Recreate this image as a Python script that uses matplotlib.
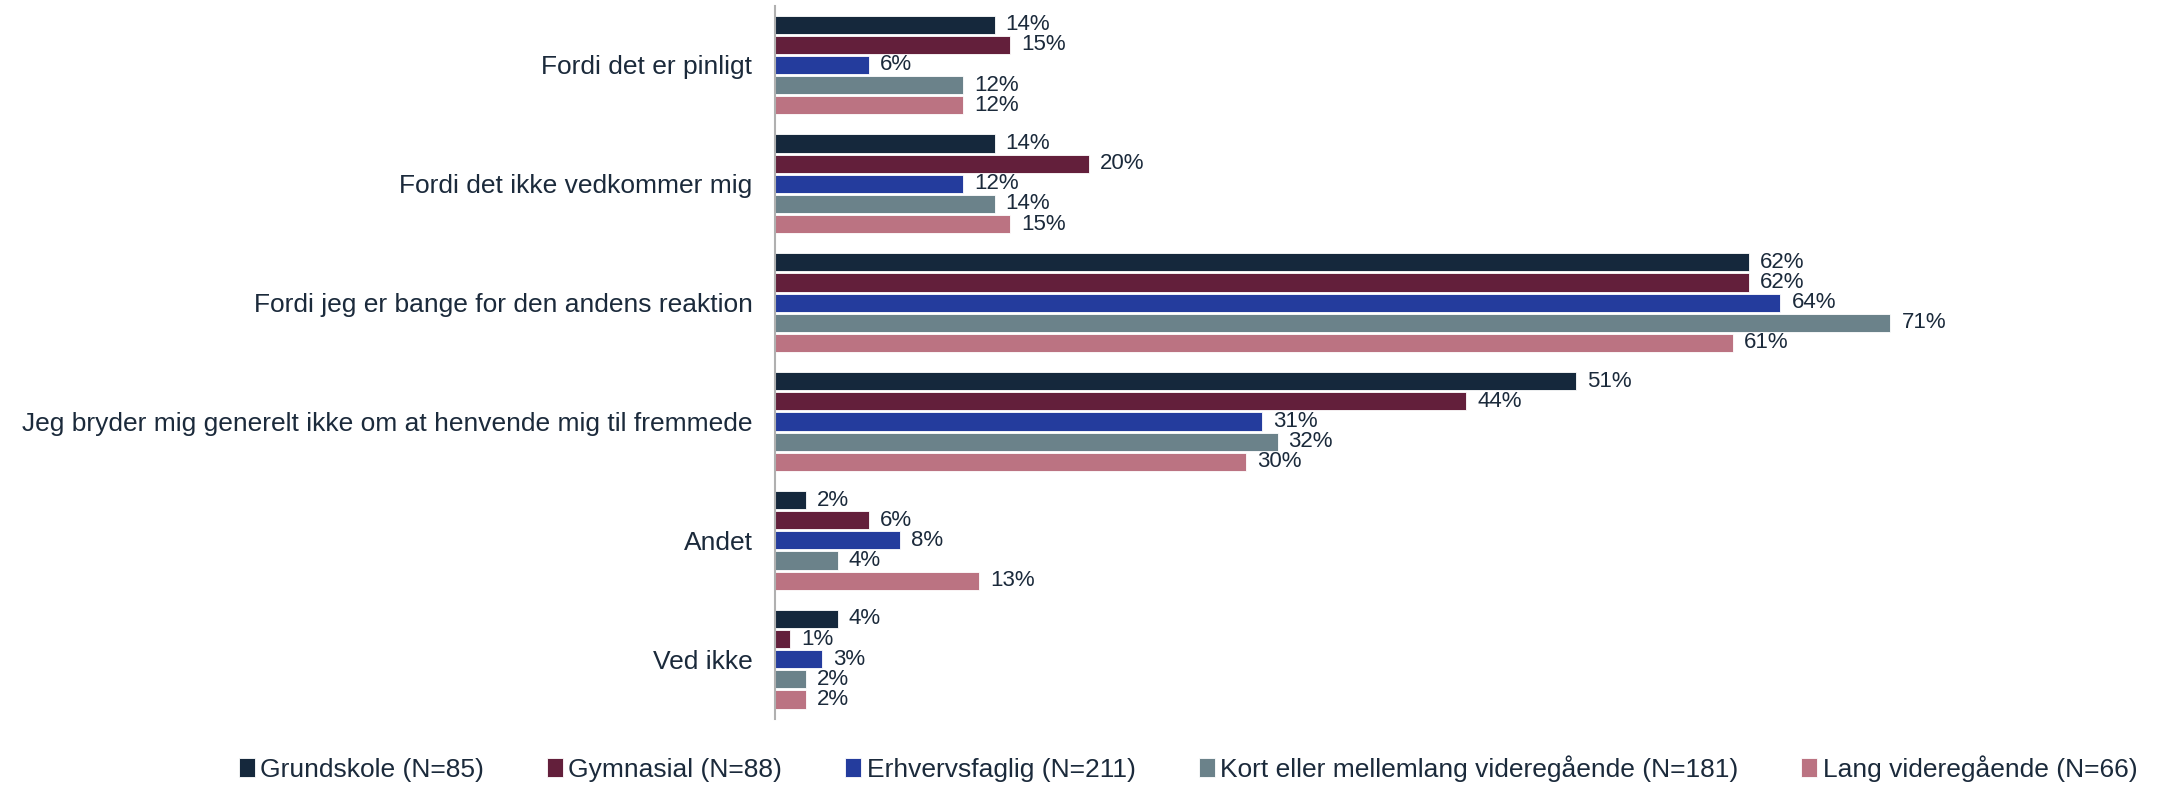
import matplotlib.pyplot as plt
import numpy as np

plt.rcParams['font.family'] = ['Liberation Sans', 'DejaVu Sans']

kategorier = ['Fordi det er pinligt',
              'Fordi det ikke vedkommer mig',
              'Fordi jeg er bange for den andens reaktion',
              'Jeg bryder mig generelt ikke om at henvende mig til fremmede',
              'Andet',
              'Ved ikke']

grupper = ['Grundskole (N=85)', 'Gymnasial (N=88)', 'Erhvervsfaglig (N=211)',
           'Kort eller mellemlang videregående (N=181)', 'Lang videregående (N=66)']

grundskole = [14, 14, 62, 51, 2, 4]
gymnasial = [15, 20, 62, 44, 6, 1]
erhverv = [6, 12, 64, 31, 8, 3]
kort_mellem = [12, 14, 71, 32, 4, 2]
lang = [12, 15, 61, 30, 13, 2]
serier = [grundskole, gymnasial, erhverv, kort_mellem, lang]

farver = ['#15283c', '#631f3b', '#243c9d', '#6b828a', '#bb7382']
tekstfarve = '#1b2a3b'

fig = plt.figure(figsize=(21.64, 7.88), dpi=100)
ax = fig.add_axes([0.358, 0.088, 0.61, 0.905])

y = np.arange(len(kategorier))
pitch = 1 / 5.9
for i, (vals, navn, f) in enumerate(zip(serier, grupper, farver)):
    pos = y + (i - 2) * pitch
    ax.barh(pos, vals, height=pitch * 0.9, color=f, label=navn,
            edgecolor='white', linewidth=0.6)
    for p, v in zip(pos, vals):
        ax.text(v + 0.7, p, f'{v}%', va='center', ha='left',
                fontsize=16, color=tekstfarve)

ax.set_xlim(0, 84)
ax.set_ylim(len(kategorier) - 0.5, -0.5)
ax.set_yticks(y)
ax.set_yticklabels(kategorier, fontsize=19, color=tekstfarve)
ax.tick_params(axis='y', length=0, pad=16)
ax.set_xticks([])
for s in ['top', 'right', 'bottom']:
    ax.spines[s].set_visible(False)
ax.spines['left'].set_color('#b0b0b0')
ax.spines['left'].set_linewidth(1.5)

leg = fig.legend(loc='center', bbox_to_anchor=(0.549, 0.025), ncol=5,
                 frameon=False, fontsize=19, handlelength=0.6,
                 handleheight=0.75, handletextpad=0.2, columnspacing=2.4)
for t in leg.get_texts():
    t.set_color(tekstfarve)

fig.savefig('out.png', dpi=100)
